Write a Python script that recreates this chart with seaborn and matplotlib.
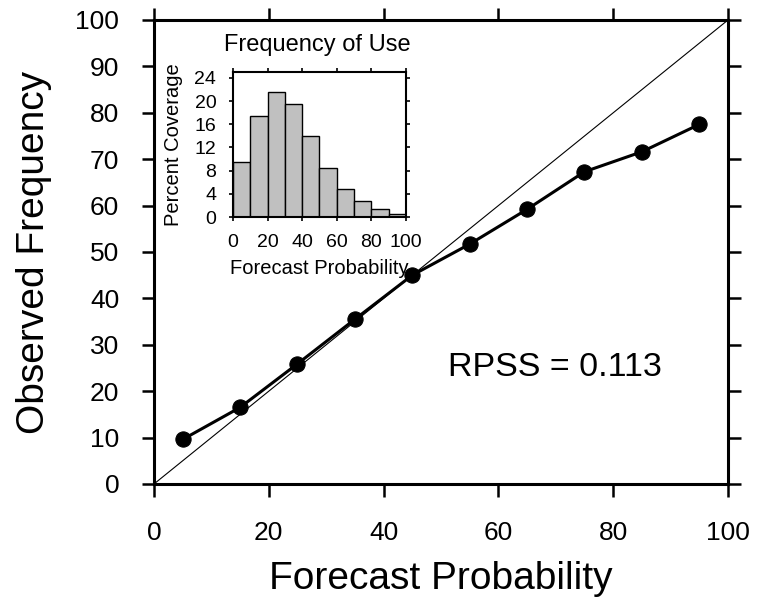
import numpy as np
import pandas as pd
import matplotlib
matplotlib.use("Agg")
import matplotlib.pyplot as plt
import seaborn as sns

# reliability curve
forecast_prob = [5, 15, 25, 35, 45, 55, 65, 75, 85, 95]
observed_freq = [9.6, 16.5, 25.9, 35.5, 45.0, 51.7, 59.2, 67.3, 71.6, 77.5]

# frequency of use histogram
bin_edges = [0, 10, 20, 30, 40, 50, 60, 70, 80, 90, 100]
bin_centers = [5, 15, 25, 35, 45, 55, 65, 75, 85, 95]
coverage = [9.4, 17.5, 21.6, 19.5, 14.0, 8.5, 4.9, 2.7, 1.4, 0.45]

rpss = 0.113

sns.set_style("ticks")
plt.rcParams['font.family'] = ['Liberation Sans', 'DejaVu Sans']
plt.rcParams['text.color'] = 'black'
plt.rcParams['axes.labelcolor'] = 'black'
plt.rcParams['xtick.color'] = 'black'
plt.rcParams['ytick.color'] = 'black'

fig = plt.figure(figsize=(7.57, 6.04), dpi=100)
ax = fig.add_axes([0.2034, 0.1987, 0.7583, 0.7682])

df = pd.DataFrame({'x': forecast_prob, 'y': observed_freq})
ax.plot([0, 100], [0, 100], color='black', lw=0.8)
sns.lineplot(data=df, x='x', y='y', ax=ax, color='black', lw=2.2,
             marker='o', markersize=11, markeredgecolor='black')

ax.set_xlim(0, 100)
ax.set_ylim(0, 100)
ax.set_xticks(range(0, 101, 20))
ax.set_yticks(range(0, 101, 10))
ax.set_xlabel('Forecast Probability', fontsize=28, labelpad=11)
ax.set_ylabel('Observed Frequency', fontsize=28, labelpad=17)
ax.tick_params(axis='both', labelsize=19, width=1.8, length=9, direction='out',
               top=True, right=True)
ax.tick_params(axis='y', pad=16)
ax.tick_params(axis='x', pad=18)
for s in ax.spines.values():
    s.set_linewidth(2.2)
    s.set_color('black')
ax.text(51.2, 25, f'RPSS = {rpss:.3f}', fontsize=24.5, va='center', ha='left')

# inset
ins = fig.add_axes([0.3078, 0.6407, 0.2285, 0.2401])
sns.histplot(x=bin_centers, weights=coverage, bins=bin_edges, ax=ins,
             color='#c0c0c0', edgecolor='black', linewidth=1, alpha=1)
ins.set_xlim(0, 100)
ins.set_ylim(0, 25)
ins.set_xticks(range(0, 101, 20))
ins.set_yticks(range(0, 25, 4))
ins.tick_params(axis='both', labelsize=14, width=1.2, length=3, direction='out',
                top=True, right=True, pad=9)
for s in ins.spines.values():
    s.set_linewidth(1.5)
    s.set_color('black')
ins.set_title('Frequency of Use', fontsize=17, pad=15, x=0.49)
ins.set_xlabel('Forecast Probability', fontsize=14.5, labelpad=6)
ins.set_ylabel('Percent Coverage', fontsize=14.5, labelpad=8)

fig.savefig('out.png', dpi=100)
